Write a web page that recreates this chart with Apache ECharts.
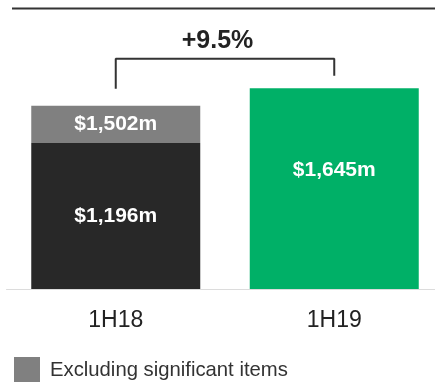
<!DOCTYPE html>
<html>
<head>
<meta charset="utf-8">
<script src="https://cdn.jsdelivr.net/npm/echarts@6/dist/echarts.min.js"></script>
<style>
html,body{margin:0;padding:0;background:#fff;overflow:hidden;}
#c{width:435px;height:382px;}
</style>
</head>
<body>
<div id="c"></div>
<script>
// ---- data ----
const categories = ['1H18', '1H19'];
const reportedValues = [1196, 1645];          // $m, reported
const exclSigTotals = [1502, null];           // $m, excluding significant items
const changeLabel = '+9.5%';
const bracketValues = [1641, 1887, 1747];     // left leg end, bracket top, right leg end
const legendName = 'Excluding significant items';

const FONT = '"Liberation Sans", Arial, sans-serif';
const reportedColors = ['#282828', '#00b067'];

const grayParts = exclSigTotals.map((t, i) => t == null ? null : t - reportedValues[i]);
const fmt = v => '$' + v.toLocaleString('en-US') + 'm';

const chart = echarts.init(document.getElementById('c'), null, {renderer: 'canvas'});
chart.setOption({
  animation: false,
  textStyle: {fontFamily: FONT},
  title: {
    text: changeLabel,
    left: 'center',
    top: 24,
    textStyle: {fontSize: 25, fontWeight: 'bold', color: '#222', fontFamily: FONT}
  },
  graphic: [{
    type: 'line',
    shape: {x1: 12, y1: 8.5, x2: 435, y2: 8.5},
    style: {stroke: '#333', lineWidth: 2}
  }],
  legend: {
    data: [legendName],
    left: 14,
    top: 357,
    padding: 0,
    itemWidth: 26,
    itemHeight: 26,
    icon: 'rect',
    itemGap: 10,
    textStyle: {fontSize: 20.3, color: '#333', fontFamily: FONT, padding: [0, 0, 0, 5]}
  },
  grid: {left: 6.5, right: -8.5, top: 45, bottom: 93, containLabel: false, outerBoundsMode: 'none'},
  xAxis: {
    type: 'category',
    data: categories,
    axisLine: {show: true, lineStyle: {color: '#dcdcdc', width: 1}},
    axisTick: {show: false},
    axisLabel: {fontSize: 23, color: '#222', margin: 20, fontFamily: FONT}
  },
  yAxis: {type: 'value', min: 0, max: 2000, show: false, splitLine: {show: false}},
  series: [
    {
      name: 'Reported',
      type: 'bar',
      stack: 'a',
      barWidth: 169,
      data: reportedValues.map((v, i) => ({
        value: v,
        itemStyle: {color: reportedColors[i]},
        label: i === 1 ? {position: ['50%', '41%'], align: 'center', verticalAlign: 'middle'} : {}
      })),
      label: {
        show: true,
        position: 'inside',
        color: '#fff',
        fontSize: 21,
        fontWeight: 'bold',
        fontFamily: FONT,
        formatter: p => fmt(p.value)
      }
    },
    {
      name: legendName,
      type: 'bar',
      stack: 'a',
      barWidth: 169,
      itemStyle: {color: '#808080'},
      data: grayParts,
      label: {
        show: true,
        position: 'inside',
        color: '#fff',
        fontSize: 21,
        fontWeight: 'bold',
        fontFamily: FONT,
        formatter: p => p.value == null ? '' : fmt(exclSigTotals[p.dataIndex])
      }
    },
    {
      name: 'bracket',
      type: 'line',
      silent: true,
      symbol: 'none',
      lineStyle: {color: '#333', width: 2},
      data: [
        [categories[0], bracketValues[0]],
        [categories[0], bracketValues[1]],
        [categories[1], bracketValues[1]],
        [categories[1], bracketValues[2]]
      ]
    }
  ]
});
</script>
</body>
</html>
